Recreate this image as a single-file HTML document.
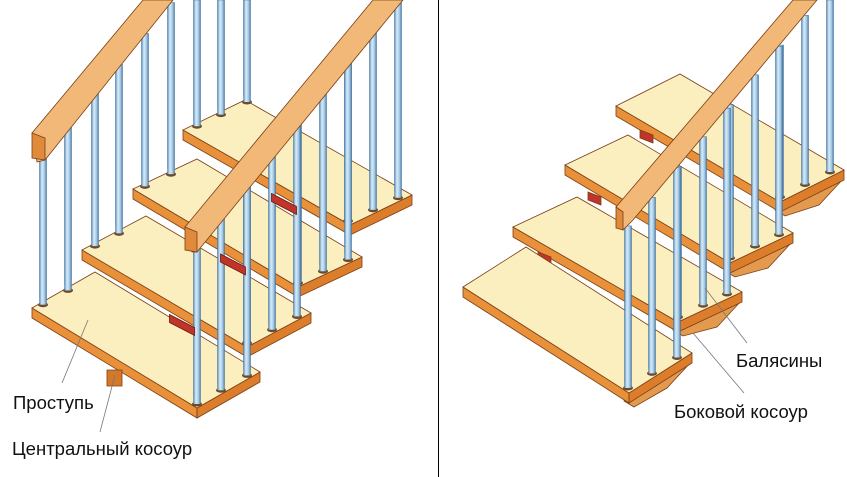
<!DOCTYPE html>
<html><head><meta charset="utf-8"><style>
html,body{margin:0;padding:0;background:#fff;}
svg{display:block;}
text{font-family:"Liberation Sans","DejaVu Sans",sans-serif;font-size:18.5px;fill:#111;}
</style></head><body>
<svg id="s" width="847" height="477" viewBox="0 0 847 477" xmlns="http://www.w3.org/2000/svg">
<defs>
<linearGradient id="pg" x1="0" x2="1" y1="0" y2="0">
<stop offset="0" stop-color="#5d8fb8"/><stop offset="0.35" stop-color="#d8ecfa"/><stop offset="0.7" stop-color="#a9cbe6"/><stop offset="1" stop-color="#4f7fa8"/>
</linearGradient>
</defs>
<line x1="438.5" y1="0" x2="438.5" y2="477" stroke="#000" stroke-width="1"/>
<g id="g"></g>
<text x="13" y="409">Проступь</text>
<text x="12" y="455">Центральный косоур</text>
<text x="736" y="367">Балясины</text>
<text x="674" y="418">Боковой косоур</text>
<line x1="88" y1="320" x2="62" y2="383" stroke="#777" stroke-width="0.8"/>
<line x1="115" y1="375" x2="100" y2="432" stroke="#777" stroke-width="0.8"/>
<line x1="705" y1="288" x2="747" y2="343" stroke="#777" stroke-width="0.8"/>
<line x1="693" y1="333" x2="744" y2="393" stroke="#777" stroke-width="0.8"/>
</svg>
<script>
var g=document.getElementById('g'),h='',hr='';
function P(pts,f,s){return '<polygon points="'+pts.map(function(p){return p[0]+','+p[1]}).join(' ')+'" fill="'+f+'" stroke="'+(s||'#7a3e14')+'" stroke-width="0.8"/>';}
function tread(L,R,F,t){var K=[L[0]+R[0]-F[0],L[1]+R[1]-F[1]];
h+=P([L,F,[F[0],F[1]+t],[L[0],L[1]+t]],'#e8913a');
h+=P([F,R,[R[0],R[1]+t],[F[0],F[1]+t]],'#dc7d2c');
h+=P([L,K,R,F],'#fcefbf');}
function post(x,yb,yt){h+='<rect x="'+(x-3.5)+'" y="'+yt+'" width="7" height="'+(yb-yt)+'" fill="url(#pg)" stroke="#3f6f98" stroke-width="0.5"/>';
h+='<ellipse cx="'+x+'" cy="'+yb+'" rx="5" ry="2.5" fill="#6b4a2a"/><rect x="'+(x-3.5)+'" y="'+(yb-6)+'" width="7" height="6" fill="url(#pg)"/>';}
function edgeY(A,B,x){return A[1]+(B[1]-A[1])*(x-A[0])/(B[0]-A[0]);}
// LEFT stairs
var LT=[[[32,308],[260,372],[197,408]],[[82,250],[311,313],[247,347]],[[133,189],[362,257],[298,287]],[[183,130],[412,195],[350,225]]];
var lp=[[43,68],[95,119],[145,171],[197,221,247]];
var rp=[[197,221,247],[247,272,297],[298,323,348],[348,373,398]];
function lrb(x){return Math.max(0,162-1.19*(x-37));}
function rrb(x){return Math.max(0,252-1.21*(x-192));}
for(var i=3;i>=0;i--){var T=LT[i];
 if(i>0){var mx=(T[0][0]+T[2][0])/2,my=(T[0][1]+T[2][1])/2;
  hr+=P([[mx+5,my+16],[mx+30,my+29],[mx+30,my+37],[mx+5,my+24]],'#c0342a','#6a1a10');}
 tread(T[0],T[1],T[2],10);
 var K=[T[0][0]+T[1][0]-T[2][0],T[0][1]+T[1][1]-T[2][1]];
 lp[i].forEach(function(x){post(x,edgeY(T[0],K,x)+3,lrb(x));});
 rp[i].forEach(function(x){var yb=Math.min(edgeY(T[2],T[1],x),T[2][1])-4;post(x,yb,rrb(x));});
}
h+=hr;
h+=P([[107,370],[122,370],[122,386],[107,386]],'#d4782a');
// left rail
h+=P([[32,133],[143,0],[173,0],[45,160],[37,162]],'#f2b877');
h+=P([[32,133],[45,138],[45,160],[32,158]],'#e08a3c');
// right rail
h+=P([[185,227],[373,0],[403,0],[197,252],[192,252]],'#f2b877');
h+=P([[185,227],[197,232],[197,252],[185,250]],'#e08a3c');
// RIGHT stairs
var RT=[[[463,287],[692,353],[629,393]],[[513,227],[742,292],[678,322]],[[565,165],[793,233],[730,263]],[[616,106],[844,170],[780,202]]];
var rq=[[628,652,677],[678,703,727],[730,755,779],[780,805,830]];
function r2(x){return Math.max(0,220-1.19*(x-633));}
for(var i=3;i>=0;i--){var T=RT[i];
 h+=P([[T[2][0]-5,T[2][1]+8],[T[1][0],T[1][1]+8],[T[1][0]-25,T[1][1]+35],[T[2][0]+5,T[2][1]+14]],'#e39a4e');
 if(i<3){h+=P([[T[0][0]+75,T[0][1]-35],[T[0][0]+88,T[0][1]-30],[T[0][0]+88,T[0][1]-22],[T[0][0]+75,T[0][1]-27]],'#c0342a');}
 tread(T[0],T[1],T[2],10);
 rq[i].forEach(function(x){var yb=Math.min(edgeY(T[2],T[1],x),T[2][1])-5;post(x,yb,r2(x));});
}
h+=P([[616,207],[793,0],[817,0],[633,220],[623,230]],'#f2b877');
h+=P([[616,207],[623,212],[623,230],[616,228]],'#e08a3c');
g.innerHTML=h;
</script>
</body></html>
